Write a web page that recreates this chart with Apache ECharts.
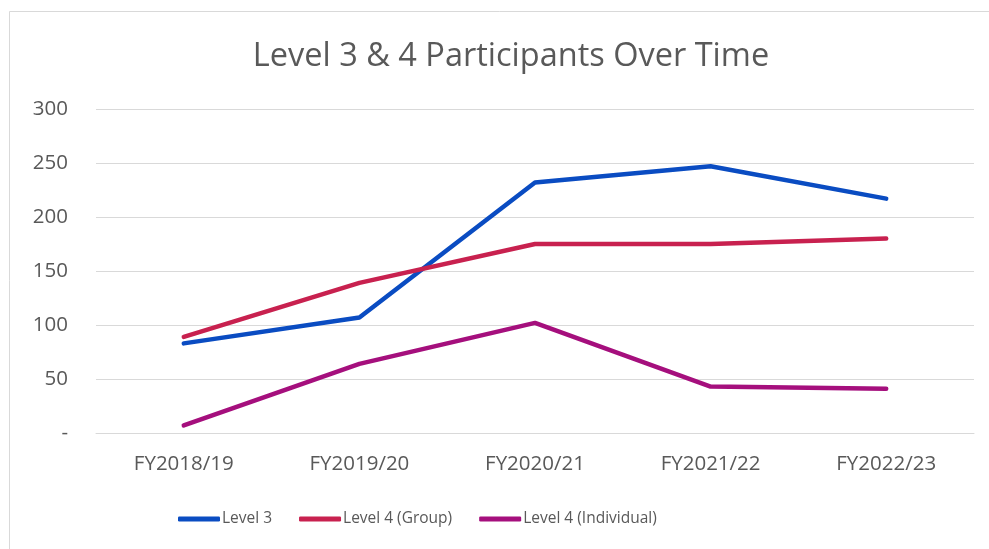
<!DOCTYPE html>
<html lang="en">
<head>
    <meta charset="UTF-8">
    <title>Level 3 & 4 Participants Over Time</title>
    <script src="https://cdn.jsdelivr.net/npm/echarts@6/dist/echarts.min.js"></script>
    <style>
        body { margin: 0; background: #fff; }
    </style>
</head>
<body>
    <div id="main" style="width: 989px;height:549px;"></div>

    <script>
        var years = ["FY2018/19", "FY2019/20", "FY2020/21", "FY2021/22", "FY2022/23"];
        var level3 = [83, 107, 232, 247, 217];
        var level4Group = [89, 139, 175, 175, 180];
        var level4Individual = [7, 64, 102, 43, 41];

        var myChart = echarts.init(document.getElementById('main'));

        var font = "'Open Sans', sans-serif";

        var option = {
            backgroundColor: "#fff",
            animation: false,
            graphic: [{
                type: "rect",
                shape: { x: 9.5, y: 11.5, width: 1200, height: 800 },
                style: { fill: "none", stroke: "#d9d9d9", lineWidth: 1 },
                silent: true
            }],
            title: {
                text: "Level 3 & 4 Participants Over Time",
                left: 506,
                textAlign: "center",
                top: 35,
                textStyle: {
                    fontFamily: font,
                    fontSize: 32.5,
                    fontWeight: "normal",
                    color: "#595959"
                }
            },
            legend: {
                bottom: 17,
                left: 173,
                icon: "roundRect",
                itemWidth: 42,
                itemHeight: 5,
                itemGap: 27,
                textStyle: {
                    fontFamily: font,
                    fontSize: 15.5,
                    color: "#595959",
                    padding: [0, 0, 0, -3]
                }
            },
            grid: {
                left: 96,
                right: 15,
                top: 109,
                bottom: 116
            },
            xAxis: {
                type: "category",
                data: years,
                axisLine: { lineStyle: { color: "#d9d9d9" } },
                axisTick: { show: false },
                axisLabel: {
                    fontFamily: font,
                    fontSize: 20.5,
                    color: "#595959",
                    margin: 21
                }
            },
            yAxis: {
                type: "value",
                min: 0,
                max: 300,
                interval: 50,
                splitLine: { lineStyle: { color: "#d9d9d9" } },
                axisLabel: {
                    fontFamily: font,
                    fontSize: 20.5,
                    color: "#595959",
                    margin: 28,
                    formatter: function (v) { return v === 0 ? "-" : v; }
                }
            },
            series: [{
                name: "Level 3",
                type: "line",
                data: level3,
                symbol: "none",
                lineStyle: { width: 4.5, color: "#0a4cc2", cap: "round" },
                itemStyle: { color: "#0a4cc2" }
            }, {
                name: "Level 4 (Group)",
                type: "line",
                data: level4Group,
                symbol: "none",
                lineStyle: { width: 4.5, color: "#c8214f", cap: "round" },
                itemStyle: { color: "#c8214f" }
            }, {
                name: "Level 4 (Individual)",
                type: "line",
                data: level4Individual,
                symbol: "none",
                lineStyle: { width: 4.5, color: "#a50f7d", cap: "round" },
                itemStyle: { color: "#a50f7d" }
            }]
        };

        myChart.setOption(option);
    </script>
</body>
</html>
